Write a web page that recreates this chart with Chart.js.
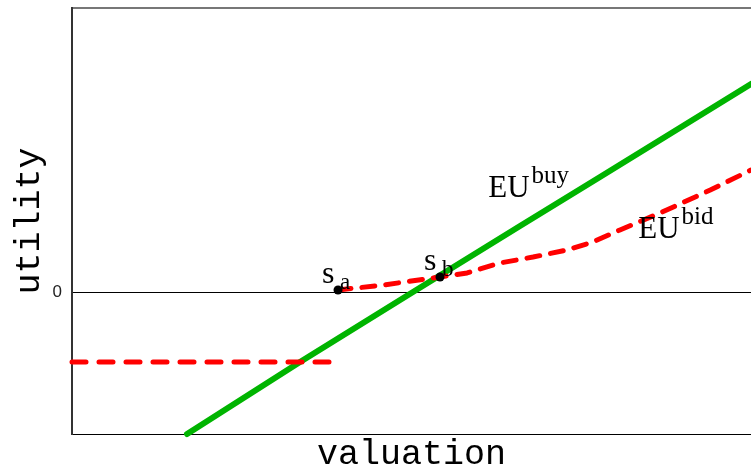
<!DOCTYPE html>
<html>
<head>
<meta charset="utf-8">
<script src="https://cdn.jsdelivr.net/npm/chart.js@4/dist/chart.umd.min.js"></script>
<style>
  html, body { margin: 0; padding: 0; background: #fff; }
  canvas { display: block; }
</style>
</head>
<body>
<canvas id="c" width="751" height="472"></canvas>
<script>
// Expected utility of buying outright
const buyX = [1.694, 3.358, 5.022, 6.598, 7.776, 8.733, 10];
const buyY = [-1.0, -0.493, 0, 0.465, 0.810, 1.092, 1.465];

// Expected utility of bidding: flat part below s_a, rising part from s_a on
const bidLowX = [0, 3.873];
const bidLowY = [-0.493, -0.493];
const bidHighX = [3.918, 4.6, 5.42, 5.82, 6.3, 6.79, 7.29, 7.67, 8.07, 8.66, 9.4, 10];
const bidHighY = [0.014, 0.05, 0.106, 0.134, 0.204, 0.246, 0.296, 0.352, 0.437, 0.556, 0.718, 0.859];

// Thresholds s_a and s_b
const pointX = [3.918, 5.42];
const pointY = [0.014, 0.106];
const pointSub = ['a', 'b'];

// Curve names, anchored in data coordinates
const curveLabelX = [6.13, 8.34];
const curveLabelY = [0.67, 0.38];
const curveLabelSup = ['buy', 'bid'];

// y-axis ticks: the zero line and the top frame
const yTickValues = [0, 2];
const yTickLabels = ['0', ''];

const xy = (xs, ys) => xs.map((x, i) => ({ x, y: ys[i] }));

const SERIF = '"Liberation Serif", "Times New Roman", serif';
const MONO = '"Liberation Mono", "Courier New", monospace';

const textPlugin = {
  id: 'curveText',
  afterDatasetsDraw(chart) {
    const { ctx, scales: { x, y } } = chart;
    ctx.save();
    ctx.fillStyle = '#000';
    ctx.textBaseline = 'alphabetic';
    ctx.textAlign = 'left';
    // s_a, s_b next to their points
    pointX.forEach((vx, i) => {
      const px = x.getPixelForValue(vx);
      const py = y.getPixelForValue(pointY[i]);
      ctx.font = '32px ' + SERIF;
      ctx.fillText('s', px - 16, py - 7);
      ctx.font = '23px ' + SERIF;
      ctx.fillText(pointSub[i], px + 2, py - 1);
    });
    // EU^buy, EU^bid
    curveLabelX.forEach((vx, i) => {
      const px = x.getPixelForValue(vx);
      const py = y.getPixelForValue(curveLabelY[i]);
      ctx.font = '31px ' + SERIF;
      ctx.fillText('EU', px, py);
      const w = ctx.measureText('EU').width;
      ctx.font = '25px ' + SERIF;
      ctx.fillText(curveLabelSup[i], px + w + 2, py - 14);
    });
    ctx.restore();
  }
};

new Chart(document.getElementById('c'), {
  type: 'line',
  data: {
    datasets: [
      {
        data: xy(pointX, pointY),
        showLine: false,
        pointRadius: 4.5,
        pointBackgroundColor: '#000',
        pointBorderColor: '#000',
        pointBorderWidth: 0
      },
      {
        data: xy(bidLowX, bidLowY),
        borderColor: '#ff0000',
        borderWidth: 5,
        borderDash: [14, 13],
        borderCapStyle: 'round',
        pointRadius: 0,
        tension: 0,
        clip: false
      },
      {
        data: xy(bidHighX, bidHighY),
        borderColor: '#ff0000',
        borderWidth: 5,
        borderDash: [13, 11],
        borderCapStyle: 'round',
        borderJoinStyle: 'round',
        pointRadius: 0,
        tension: 0,
        clip: false
      },
      {
        data: xy(buyX, buyY),
        borderColor: '#00b400',
        borderWidth: 6,
        borderCapStyle: 'round',
        borderJoinStyle: 'round',
        pointRadius: 0,
        tension: 0,
        clip: false
      }
    ]
  },
  options: {
    responsive: false,
    animation: false,
    devicePixelRatio: 1,
    layout: { autoPadding: false, padding: { top: 8, right: 0, left: 0, bottom: 0 } },
    plugins: { legend: { display: false }, tooltip: { enabled: false } },
    scales: {
      x: {
        type: 'linear',
        min: 0,
        max: 10,
        grid: { display: false },
        ticks: { display: false },
        border: { color: '#000', width: 1 },
        title: {
          display: true,
          text: 'valuation',
          color: '#000',
          font: { family: MONO, size: 35, lineHeight: 1 },
          padding: { top: 0, bottom: 0 }
        },
        afterFit(scale) {
          scale.height = 38;
          scale.paddingLeft = 0;
          scale.paddingRight = 0;
        }
      },
      y: {
        min: -1,
        max: 2,
        afterBuildTicks(scale) {
          scale.ticks = yTickValues.map(v => ({ value: v }));
        },
        ticks: {
          color: '#222',
          padding: 10,
          font: { family: '"Liberation Sans", Arial, sans-serif', size: 17 },
          callback: (v) => yTickLabels[yTickValues.indexOf(v)] ?? ''
        },
        grid: {
          drawTicks: false,
          color: (c) => (c.tick && c.tick.value === 0 ? '#000' : '#777'),
          lineWidth: (c) => (c.tick && c.tick.value === 0 ? 1 : 2)
        },
        border: { color: '#333', width: 2 },
        title: {
          display: true,
          text: 'utility',
          color: '#000',
          font: { family: MONO, size: 35, lineHeight: 1 },
          padding: { top: 12, bottom: 0 }
        },
        afterFit(scale) {
          scale.width = 72;
          scale.paddingTop = 0;
          scale.paddingBottom = 0;
        }
      }
    }
  },
  plugins: [textPlugin]
});
</script>
</body>
</html>
